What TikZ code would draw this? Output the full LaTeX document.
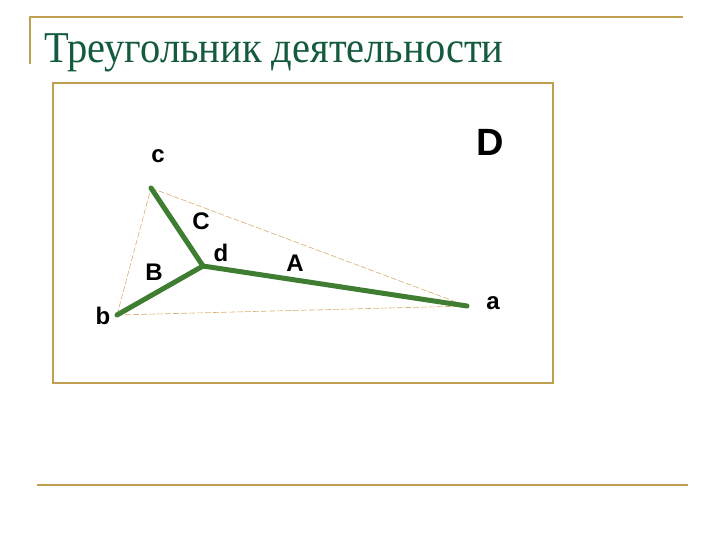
\documentclass[tikz,border=0pt]{standalone}
\usepackage{fontspec}
\setmainfont{Liberation Serif}
\newfontfamily\labelfont{Liberation Sans}
\usepackage{xcolor}
\definecolor{frame}{RGB}{190,160,80}
\definecolor{titlegreen}{RGB}{20,90,60}
\definecolor{edge}{RGB}{62,125,50}
\definecolor{hull}{RGB}{215,175,110}

\begin{document}
\begin{tikzpicture}[x=1pt, y=-1pt,
    side/.style = {draw=edge, line width=5pt, line cap=round},
    hullline/.style = {draw=hull, line width=0.6pt, dashed, dash pattern=on 6pt off 2pt},
    lbl/.style = {font=\labelfont\fontsize{24}{24}\selectfont\bfseries, inner sep=0pt}]
                    \useasboundingbox (0,0) rectangle (720,540);

                    \draw[frame, line width=2pt] (30,64) -- (30,17) -- (683,17);
                    \draw[frame, line width=2pt] (37,485) -- (688,485);
                    \node[anchor=base west, text=titlegreen, font=\fontsize{44}{44}\selectfont, inner sep=0pt, xscale=0.92] (title) at (44,63) {Треугольник деятельности};

                    \draw[frame, line width=2pt] (53,83) rectangle (553,383);

                    \coordinate (a) at (467,306);
                    \coordinate (b) at (117,315);
                    \coordinate (c) at (151,188);
                    \coordinate (d) at (203,266);

                    \draw[hullline] (c) to (a);
                    \draw[hullline] (b) to (a);
                    \draw[hullline] (b) to (c);

                    \draw[side] (c) to (d);
                    \draw[side] (b) to (d);
                    \draw[side] (a) to (d);

                    \node[lbl] (la) at (493,303) {a};
                    \node[lbl] (lb) at (103,316) {b};
                    \node[lbl] (lc) at (158,156) {c};
                    \node[lbl] (ld) at (221,253) {d};
                    \node[lbl] (lA) at (295,263) {A};
                    \node[lbl] (lB) at (154,272) {B};
                    \node[lbl] (lC) at (201,221) {C};
                    \node[lbl, font=\labelfont\fontsize{38}{38}\selectfont\bfseries] (lD) at (490,142) {D};
                \end{tikzpicture}
\end{document}
